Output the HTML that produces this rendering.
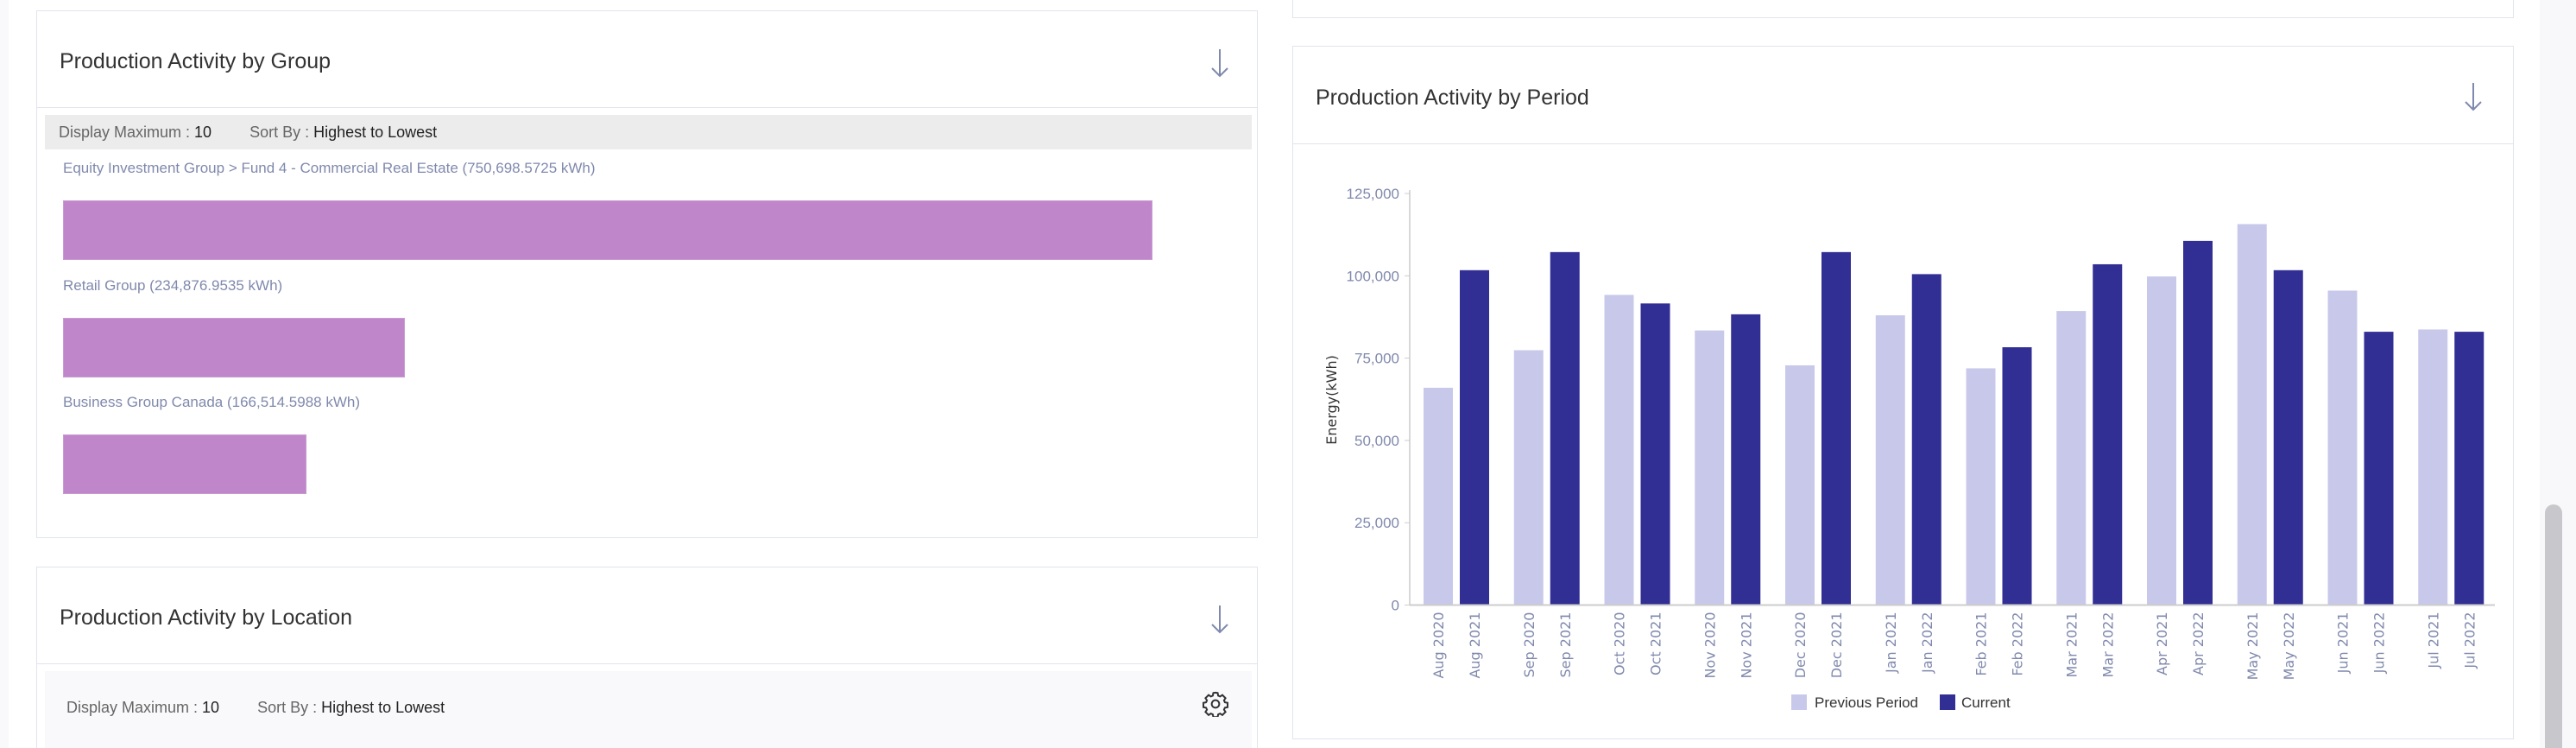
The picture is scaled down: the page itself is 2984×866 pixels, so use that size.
<!DOCTYPE html>
<html style="overflow:hidden;width:2984px;height:866px"><head><meta charset="utf-8"><style>
html,body{margin:0;width:2984px;height:866px;overflow:hidden;}
body{position:relative;background:#fff;font-family:"Liberation Sans",sans-serif;}
.panel{position:absolute;border:1px solid #e2e4ee;background:#fff;box-sizing:border-box;}
.title{position:absolute;font-size:25px;color:#333;}
.arrow{position:absolute;width:30px;height:36px;}
.hdiv{position:absolute;left:0;right:0;height:1px;background:#e2e4ee;}
.lbl{position:absolute;left:30px;font-size:17px;color:#8089ad;}
.bar{position:absolute;left:30px;background:#bf87c9;border:1px solid #c99ad3;box-sizing:border-box;}
</style></head><body>
<div style="position:absolute;left:0;top:0;width:10px;height:866px;background:#f9f9fb"></div>
<div style="position:absolute;left:2942px;top:0;width:42px;height:866px;background:#f8f8fb"></div>
<div style="position:absolute;left:2948px;top:584px;width:20px;height:282px;border-radius:10px 10px 0 0;background:#c8c8cc"></div>

<div class="panel" style="left:42px;top:12px;width:1415px;height:611px;">
  <div class="title" style="left:26px;top:44px;">Production Activity by Group</div>
  <svg class="arrow" style="left:1355px;top:42px" viewBox="0 0 30 36"><path d="M15 2V33M6 24L15 33L24 24" stroke="#8089ad" stroke-width="2" fill="none"/></svg>
  <div class="hdiv" style="top:111px"></div>
  <div style="position:absolute;left:9px;top:120px;width:1398px;height:40px;background:#ececec;font-size:18px;color:#666;line-height:40px;padding-left:16px;box-sizing:border-box">Display Maximum : <span style="color:#222">10</span><span style="margin-left:44px">Sort By : </span><span style="color:#222">Highest to Lowest</span></div>
  <div class="lbl" style="top:172px">Equity Investment Group &gt; Fund 4 - Commercial Real Estate (750,698.5725 kWh)</div>
  <div class="bar" style="top:219px;width:1262px;height:69px"></div>
  <div class="lbl" style="top:308px">Retail Group (234,876.9535 kWh)</div>
  <div class="bar" style="top:355px;width:396px;height:69px"></div>
  <div class="lbl" style="top:443px">Business Group Canada (166,514.5988 kWh)</div>
  <div class="bar" style="top:490px;width:282px;height:69px"></div>
</div>

<div class="panel" style="left:42px;top:656px;width:1415px;height:210px;border-bottom:none">
  <div class="title" style="left:26px;top:44px;">Production Activity by Location</div>
  <svg class="arrow" style="left:1355px;top:42px" viewBox="0 0 30 36"><path d="M15 2V33M6 24L15 33L24 24" stroke="#8089ad" stroke-width="2" fill="none"/></svg>
  <div class="hdiv" style="top:111px"></div>
  <div style="position:absolute;left:9px;top:120px;width:1398px;height:90px;background:#f9f9fc;font-size:18px;color:#666;padding:32px 0 0 25px;box-sizing:border-box">Display Maximum : <span style="color:#222">10</span><span style="margin-left:44px">Sort By : </span><span style="color:#222">Highest to Lowest</span></div>
  <svg style="position:absolute;left:1350px;top:143px" width="30" height="30" viewBox="0 0 24 24"><path d="M12 1.5l2 .3.5 2.5 1.8.8 2.1-1.4 2.9 2.9-1.4 2.1.8 1.8 2.5.5v4l-2.5.5-.8 1.8 1.4 2.1-2.9 2.9-2.1-1.4-1.8.8-.5 2.5h-4l-.5-2.5-1.8-.8-2.1 1.4-2.9-2.9 1.4-2.1-.8-1.8-2.5-.5v-4l2.5-.5.8-1.8-1.4-2.1 2.9-2.9 2.1 1.4 1.8-.8.5-2.5z" fill="none" stroke="#333" stroke-width="1.6"/><circle cx="12" cy="12" r="3.5" fill="none" stroke="#333" stroke-width="1.6"/></svg>
</div>

<div class="panel" style="left:1497px;top:-10px;width:1415px;height:31px;"></div>

<div class="panel" style="left:1497px;top:53px;width:1415px;height:803px;">
  <div class="title" style="left:26px;top:45px;">Production Activity by Period</div>
  <svg class="arrow" style="left:1352px;top:40px" viewBox="0 0 30 36"><path d="M15 2V33M6 24L15 33L24 24" stroke="#8089ad" stroke-width="2" fill="none"/></svg>
  <div class="hdiv" style="top:112px"></div>
</div>

<svg id="chart" style="position:absolute;left:0;top:0" width="2984" height="866"></svg>
<script>
const categories=["Aug","Sep","Oct","Nov","Dec","Jan","Feb","Mar","Apr","May","Jun","Jul"];
const prevLabels=["Aug 2020","Sep 2020","Oct 2020","Nov 2020","Dec 2020","Jan 2021","Feb 2021","Mar 2021","Apr 2021","May 2021","Jun 2021","Jul 2021"];
const curLabels=["Aug 2021","Sep 2021","Oct 2021","Nov 2021","Dec 2021","Jan 2022","Feb 2022","Mar 2022","Apr 2022","May 2022","Jun 2022","Jul 2022"];
const previousValues=[66000,77400,94200,83400,72800,88000,71900,89300,99800,115700,95500,83700];
const currentValues=[101700,107200,91600,88300,107200,100500,78300,103500,110600,101700,83000,83000];
const yTicks=[0,25000,50000,75000,100000,125000];
const yTickLabels=["0","25,000","50,000","75,000","100,000","125,000"];

const NS="http://www.w3.org/2000/svg";
const svg=document.getElementById('chart');
const x0=1633,x1=2890,yBase=700.5,yTop=224,yMax=125000;
const gw=(x1-x0)/categories.length;
const yS=v=>yBase-(v/yMax)*(yBase-yTop);
function mk(tag,attrs,txt){const e=document.createElementNS(NS,tag);for(const k in attrs)e.setAttribute(k,attrs[k]);if(txt!==undefined)e.textContent=txt;svg.appendChild(e);return e;}

yTicks.forEach((t,i)=>{
  const y=yS(t);
  const tk=mk('line',{x1:x0-6,x2:x0,y1:y,y2:y,stroke:'#ccc','stroke-width':1});
  
  
  const tl=mk('text',{x:x0-12,y:y+6,'text-anchor':'end','font-size':17,fill:'#8089ad','font-family':'Liberation Sans, sans-serif'},yTickLabels[i]);
  
  
});
const yAxis=mk('line',{x1:x0,x2:x0,y1:yTop-4,y2:yBase,stroke:'#ccc','stroke-width':1.5});



categories.forEach((c,i)=>{
  const gx=x0+i*gw;
  const bw=34;
  const px=gx+16, cx=gx+16+bw+8;
  const b1=mk('rect',{x:px,y:yS(previousValues[i]),width:bw,height:yBase-yS(previousValues[i]),fill:'#c8c9ea'});
  
  
  const b2=mk('rect',{x:cx,y:yS(currentValues[i]),width:bw,height:yBase-yS(currentValues[i]),fill:'#312e94'});
  
  
  [[px,prevLabels[i]],[cx,curLabels[i]]].forEach(([bx,l])=>{
    const tx=bx+bw/2+6, ty=yBase+8;
    const t=mk('text',{x:tx,y:ty,'text-anchor':'end','font-size':16,fill:'#8089ad','font-family':'DejaVu Sans, sans-serif',transform:`rotate(-90 ${tx} ${ty})`},l);
    
    
  });
});
const xAxis=mk('line',{x1:x0,x2:x1,y1:yBase,y2:yBase,stroke:'#ccc','stroke-width':2});



const yt=mk('text',{x:1548,y:463,'text-anchor':'middle','font-size':16,fill:'#333','font-family':'DejaVu Sans, sans-serif',transform:'rotate(-90 1548 463)'},'Energy(kWh)');



const l1=mk('rect',{x:2075,y:804,width:18,height:18,fill:'#c8c9ea'});


const l1t=mk('text',{x:2102,y:819,'font-size':17,fill:'#333','font-family':'Liberation Sans, sans-serif'},'Previous Period');


const l2=mk('rect',{x:2247,y:804,width:18,height:18,fill:'#312e94'});


const l2t=mk('text',{x:2272,y:819,'font-size':17,fill:'#333','font-family':'Liberation Sans, sans-serif'},'Current');


</script>
</body></html>
